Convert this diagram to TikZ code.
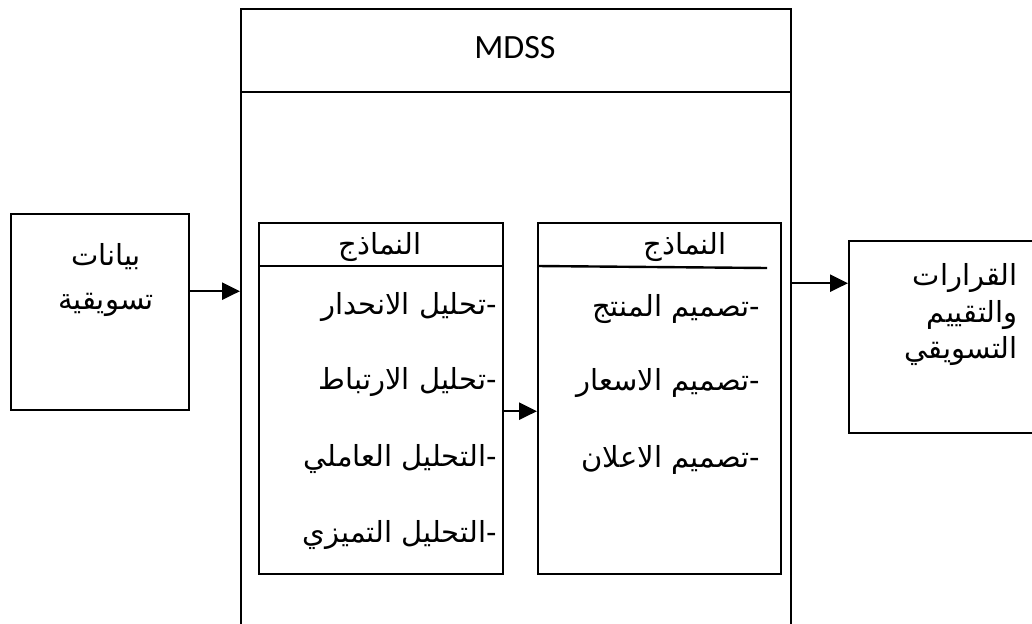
\documentclass[tikz,border=0pt]{standalone}
\usepackage{fontspec}
\usetikzlibrary{arrows.meta}
\setmainfont{Carlito}
\newfontfamily\arabicfont[Script=Arabic]{DejaVu Sans}
\TeXXeTstate=1
\newcommand{\ar}[1]{{\arabicfont\beginR #1\endR}}
\tikzset{
  box/.style={draw, line width=2.4pt, inner sep=0pt, anchor=north west},
  arr/.style={line width=2.4pt, -{Triangle[length=18pt,width=17pt]}},
  divider/.style={line width=2.4pt},
  label/.style={font=\arabicfont\fontsize{29}{32}\selectfont, inner sep=0pt, yshift=-3pt},
  item/.style={label, anchor=east},
}
\begin{document}
\begin{tikzpicture}[x=1pt,y=-1pt]
  \useasboundingbox (0,0) rectangle (1032,623);
  \fill[white] (0,0) rectangle (1032,623);

  % outer MDSS frame (runs past the lower edge)
  \node[box, minimum width=550pt, minimum height=640pt] (mdss) at (240,8) {};
  \draw[divider] (240,92) -- (790,92);
  \node[inner sep=0pt, font=\fontsize{34}{38}\selectfont] (title) at (515,48) {MDSS};

  % input data box
  \node[box, minimum width=178pt, minimum height=196pt] (data) at (10,213) {};
  \node[label] (d1) at (106,254) {\ar{بيانات}};
  \node[label] (d2) at (106,302) {\ar{تسويقية}};

  % analysis models
  \node[box, minimum width=244pt, minimum height=351pt] (models) at (258,222) {};
  \draw[divider] (258,266) -- (502,266);
  \node[label] (m0) at (380,244) {\ar{النماذج}};
  \node[item] (m1) at (497,304) {\ar{-تحليل الانحدار}};
  \node[item] (m2) at (497,379) {\ar{-تحليل الارتباط}};
  \node[item] (m3) at (497,456) {\ar{-التحليل العاملي}};
  \node[item] (m4) at (497,532) {\ar{-التحليل التميزي}};

  % design models
  \node[box, minimum width=243pt, minimum height=351pt] (design) at (537,222) {};
  \draw[divider] (537,266) -- (767,268);
  \node[label] (n0) at (685,244) {\ar{النماذج}};
  \node[item] (n1) at (760,306) {\ar{-تصميم المنتج}};
  \node[item] (n2) at (760,380) {\ar{-تصميم الاسعار}};
  \node[item] (n3) at (760,457) {\ar{-تصميم الاعلان}};

  % output box (runs past the right edge)
  \node[box, minimum width=200pt, minimum height=192pt] (out) at (848,240) {};
  \node[item] (o1) at (1018,275) {\ar{القرارات}};
  \node[item] (o2) at (1018,312) {\ar{والتقييم}};
  \node[item] (o3) at (1018,348) {\ar{التسويقي}};

  % connectors
  \draw[arr] ([yshift=21pt]data.east) -- ([yshift=21pt]data.east -| mdss.west);
  \draw[arr] ([yshift=-12.5pt]models.east) -- ([yshift=-12.5pt]models.east -| design.west);
  \draw[arr] ([yshift=54pt]out.west -| mdss.east) -- ([yshift=54pt]out.west);
\end{tikzpicture}
\end{document}
